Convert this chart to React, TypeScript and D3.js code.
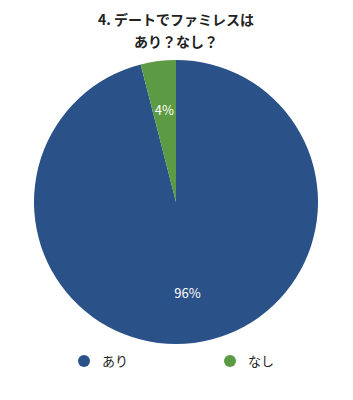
import React from "react";
import * as d3 from "d3";

const width = 353;
const height = 400;

const titleLines = ["4. デートでファミレスは", "あり？なし？"];
const categories = ["あり", "なし"];
const values = [96, 4];
const colors = ["#2b5189", "#5c9a44"];

const cx = 176;
const cy = 202;
const radius = 142;

const App = () => {
  const pie = d3
    .pie<number>()
    .sort(null)
    .startAngle(0)
    .endAngle(2 * Math.PI)
    .value((d) => d);
  const arcs = pie(values);
  const genArc = d3.arc<d3.PieArcDatum<number>>().innerRadius(0).outerRadius(radius);
  const labelArc = d3
    .arc<d3.PieArcDatum<number>>()
    .innerRadius(radius * 0.65)
    .outerRadius(radius * 0.65);

  const legendX = d3.scaleOrdinal<string, number>().domain(categories).range([84, 230]);

  return (
    <svg
      width={width}
      height={height}
      style={{ position: "absolute", left: 0, top: 0, background: "#fff" }}
      fontFamily="'Noto Sans CJK JP', sans-serif"
    >
      {titleLines.map((t, i) => (
        <text
          key={i}
          x={cx}
          y={25 + i * 22}
          textAnchor="middle"
          fontSize={14}
          fontWeight="bold"
          fill="#222"
        >
          {t}
        </text>
      ))}
      <g transform={`translate(${cx},${cy})`}>
        {arcs.map((a, i) => (
          <path key={i} d={genArc(a) || ""} fill={colors[i]} />
        ))}
        {arcs.map((a, i) => {
          const [x, y] = labelArc.centroid(a);
          return (
            <text
              key={i}
              x={x}
              y={y}
              dy="0.35em"
              textAnchor="middle"
              fontSize={13}
              fill="#fff"
            >
              {values[i]}%
            </text>
          );
        })}
      </g>
      {categories.map((c, i) => (
        <g key={c} transform={`translate(${legendX(c)},361)`}>
          <circle r={6} fill={colors[i]} />
          <text x={18} dy="0.35em" fontSize={13} fill="#222">
            {c}
          </text>
        </g>
      ))}
    </svg>
  );
};

export default App;
